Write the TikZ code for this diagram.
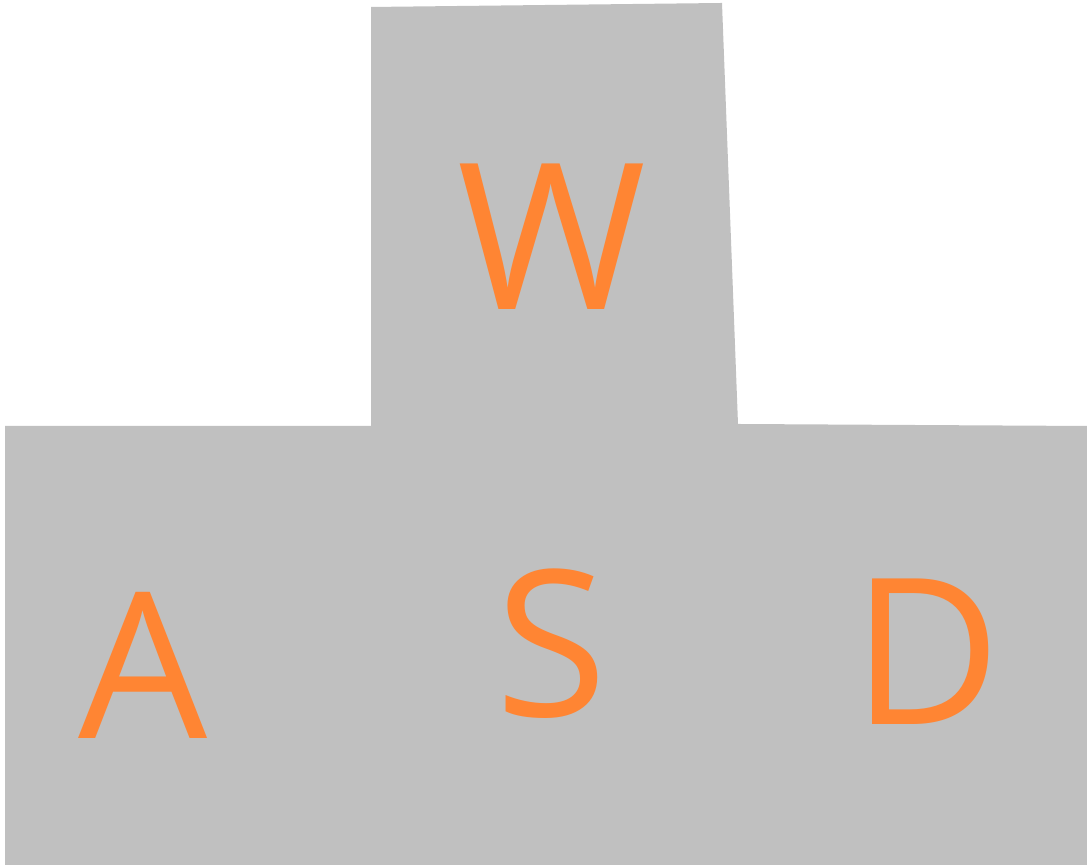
\documentclass[tikz,border=0pt]{standalone}
\usepackage{fontspec}
\setmainfont{Open Sans}
\usetikzlibrary{calc}
\definecolor{keygray}{RGB}{192,192,192}
\definecolor{keyorange}{RGB}{255,133,51}
\tikzset{
  keyletter/.style={text=keyorange, font=\fontsize{58}{58}\selectfont, inner sep=0pt, anchor=center}
}
\begin{document}
\begin{tikzpicture}[x=0.01cm, y=-0.01cm]
\useasboundingbox (0,0) rectangle (1087,868);
\fill[keygray] (371,7) -- (722,3) -- (738,424) -- (1087,426) --
	(1087,865) -- (5,865) -- (5,426) -- (371,426) -- cycle;
\node[keyletter] (w) at (552,237) {W};
\node[keyletter] (a) at (143,665) {A};
\node[keyletter] (s) at (551,644) {S};
\node[keyletter] (d) at (927,652) {D};
\end{tikzpicture}
\end{document}
